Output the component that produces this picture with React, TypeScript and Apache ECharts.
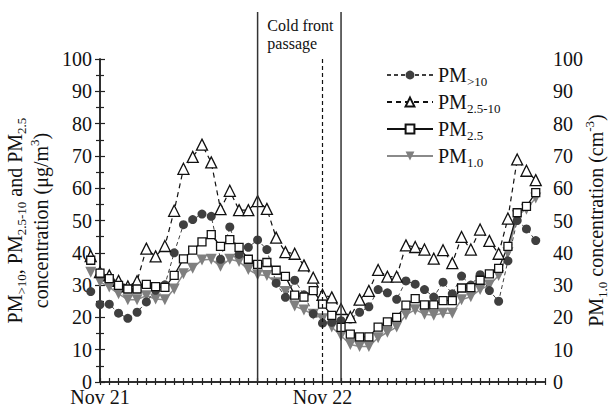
import React, { useEffect, useRef } from "react";
import * as echarts from "echarts";

// Hours from 00:00 Nov 21 (first sample is 23:00 Nov 20)
const hours = [-1, 0, 1, 2, 3, 4, 5, 6, 7, 8, 9, 10, 11, 12, 13, 14, 15, 16, 17, 18, 19, 20, 21, 22, 23, 24,
  25, 26, 27, 28, 29, 30, 31, 32, 33, 34, 35, 36, 37, 38, 39, 40, 41, 42, 43, 44, 45, 46, 47];

// PM>10 (µg/m3)
const pmGt10 = [28, 24, 24.1, 21.3, 19.7, 21.6, 24.8, 28.4, 30.1, 40, 48.7, 50.3, 52, 51.3, 38, 48, 39.5, 41.7,
  44, 41, 30.6, 26.2, 31.5, 27, 21.1, 18.2, 18.5, 19, 19.5, 21.6, 23.3, 28.6, 27.6, 25.6, 31.3, 30.3, 28.6, 26.3,
  30.9, 27.3, 32.8, 30, 33.2, 28.3, 25, 37.5, 50, 47.4, 43.8];

// PM2.5-10 (µg/m3)
const pm25to10 = [39, 34, 33, 31.3, 29.6, 31.2, 41.3, 38.9, 42.1, 53, 66, 69.7, 73.5, 68, 53.5, 59.2, 53.2, 53.2,
  56, 53.6, 44.7, 40.2, 39.7, 36.1, 32.3, 27, 26.2, 22.6, 20.1, 25.5, 28.2, 34.7, 32.6, 32.6, 42.3, 41.8, 41, 38.2,
  40.8, 36.8, 44.9, 41, 47.2, 43.7, 39.7, 50.6, 68.9, 65.4, 62.5];

// PM2.5 (µg/m3)
const pm25 = [37.7, 33.7, 32, 29.9, 28.8, 28.8, 30.2, 29.5, 29.3, 33, 38.1, 40.8, 43.4, 45.6, 42, 44.1, 41.7, 38,
  36.4, 37, 34.6, 32.7, 26.9, 26.3, 28.3, 24.1, 20.6, 16.9, 14.8, 14, 14, 17, 18.6, 20, 23.8, 25.8, 23.9, 23.9,
  25.2, 25.2, 29.1, 29.2, 31.5, 33.5, 35.2, 42, 52.4, 54.4, 58.6];

// PM1.0 (cm-3)
const pm10 = [34, 31, 29.4, 27.3, 25.5, 25.5, 26.7, 25.7, 25.5, 28.8, 33.5, 35.2, 37.8, 38, 35.8, 38, 37.3, 34.8,
  33.2, 33, 30.7, 28, 23.5, 22.3, 21, 19.6, 17, 14.3, 11.6, 11, 11, 13.7, 15.4, 17, 20.8, 22.4, 21, 20.7, 21.3,
  21.3, 25.5, 26.4, 28.6, 30, 33, 40, 51.6, 53.5, 57];

const xTickLabels: Record<number, string> = { 0: "Nov 21", 24: "Nov 22" };
const frontStart = 17;
const frontEnd = 26;
const frontDashed = 24;

const seriesNames = ["PM>10", "PM2.5-10", "PM2.5", "PM1.0"];
const legendRich: Record<string, string> = {
  "PM>10": "{m|PM}{s|>10}",
  "PM2.5-10": "{m|PM}{s|2.5-10}",
  "PM2.5": "{m|PM}{s|2.5}",
  "PM1.0": "{m|PM}{s|1.0}",
};

const FONT = "'Liberation Serif', 'Times New Roman', Times, serif";

const rich = {
  m: { fontSize: 20, fontFamily: FONT, color: "#111", lineHeight: 26 },
  s: { fontSize: 13, fontFamily: FONT, color: "#111", lineHeight: 14, verticalAlign: "bottom" },
  sup: { fontSize: 13, fontFamily: FONT, color: "#111", lineHeight: 14, verticalAlign: "top" },
};

const zip = (vals: number[]) => hours.map((h, i) => [h, vals[i]]);

export default function App() {
  const ref = useRef<HTMLDivElement>(null);
  useEffect(() => {
    if (!ref.current) return;
    const chart = echarts.init(ref.current, null, { renderer: "svg" });
    const axisLine = { show: true, lineStyle: { color: "#222", width: 1.5 } };
    const xBase = { type: "value", min: 0, max: 48, interval: 1, splitLine: { show: false } };
    const yBase = {
      type: "value",
      min: 0,
      max: 100,
      interval: 10,
      splitLine: { show: false },
      axisLine,
      axisTick: { show: true, inside: true, length: 5, lineStyle: { color: "#222", width: 1.2 } },
      minorTick: { show: true, splitNumber: 2, length: 4, lineStyle: { color: "#222", width: 1.2 } },
      axisLabel: { fontFamily: FONT, fontSize: 20, color: "#111", margin: 8, lineHeight: 14 },
      nameLocation: "middle",
      nameRotate: 90,
      nameMoveOverlap: false,
      nameTextStyle: { rich },
    };
    const option: any = {
      animation: false,
      backgroundColor: "#fff",
      grid: {
        left: 100,
        right: 65,
        top: 59,
        bottom: 26,
        containLabel: false,
        outerBoundsMode: "none",
      },
      xAxis: [
        {
          ...xBase,
          position: "bottom",
          axisLine,
          axisTick: { show: true, inside: true, length: 4, lineStyle: { color: "#222", width: 1.2 } },
          axisLabel: {
            fontFamily: FONT,
            fontSize: 20,
            color: "#111",
            margin: 8,
            lineHeight: 14,
            formatter: (v: number) => xTickLabels[v] ?? "",
          },
        },
        {
          ...xBase,
          position: "top",
          axisLine,
          axisTick: { show: true, inside: true, length: 3, lineStyle: { color: "#222", width: 1.2 } },
          axisLabel: { show: false },
        },
      ],
      yAxis: [
        {
          ...yBase,
          position: "left",
          name:
            "{m|PM}{s|>10}{m|, PM}{s|2.5-10}{m| and PM}{s|2.5}\n{m|concentration (μg/m}{sup|3}{m|)}",
          nameGap: 46,
        },
        {
          ...yBase,
          position: "right",
          name: "{m|PM}{s|1.0}{m| concentration (cm}{sup|-3}{m|)}",
          nameGap: 38,
        },
      ],
      legend: {
        orient: "vertical",
        left: 381,
        top: 60,
        itemWidth: 46,
        itemHeight: 11,
        itemGap: 4,
        data: seriesNames,
        formatter: (name: string) => legendRich[name] ?? name,
        textStyle: { rich, fontFamily: FONT, fontSize: 20, color: "#111" },
        selectedMode: false,
      },
      series: [
        {
          name: "PM1.0",
          type: "line",
          yAxisIndex: 1,
          data: zip(pm10),
          clip: false,
          symbol: "triangle",
          symbolRotate: 180,
          symbolSize: 11,
          itemStyle: { color: "#7f7f7f" },
          lineStyle: { color: "#8a8a8a", width: 1.5 },
        },
        {
          name: "PM>10",
          type: "line",
          data: zip(pmGt10),
          clip: false,
          symbol: "circle",
          symbolSize: 9,
          itemStyle: { color: "#3f3f3f" },
          lineStyle: { color: "#3f3f3f", width: 1, type: [4, 3] },
        },
        {
          name: "PM2.5-10",
          type: "line",
          data: zip(pm25to10),
          clip: false,
          symbol: "triangle",
          symbolSize: 11,
          itemStyle: { color: "#fff", borderColor: "#111", borderWidth: 1.3 },
          lineStyle: { color: "#111", width: 1.2, type: [5, 4] },
        },
        {
          name: "PM2.5",
          type: "line",
          data: zip(pm25),
          clip: false,
          symbol: "rect",
          symbolSize: 8,
          itemStyle: { color: "#fff", borderColor: "#111", borderWidth: 1.3 },
          lineStyle: { color: "#111", width: 1.3 },
        },
      ],
    };
    chart.setOption(option);

    const pStartBottom = chart.convertToPixel({ gridIndex: 0 }, [frontStart, 0]) as number[];
    const pEndBottom = chart.convertToPixel({ gridIndex: 0 }, [frontEnd, 0]) as number[];
    const pDashTop = chart.convertToPixel({ gridIndex: 0 }, [frontDashed, 100]) as number[];
    const pDashBottom = chart.convertToPixel({ gridIndex: 0 }, [frontDashed, 0]) as number[];
    const mid = (pStartBottom[0] + pEndBottom[0]) / 2;
    chart.setOption({
      graphic: [
        {
          type: "line",
          z: 10,
          shape: { x1: pStartBottom[0], y1: 12, x2: pStartBottom[0], y2: pStartBottom[1] },
          style: { stroke: "#333", lineWidth: 1.5 },
        },
        {
          type: "line",
          z: 10,
          shape: { x1: pEndBottom[0], y1: 12, x2: pEndBottom[0], y2: pEndBottom[1] },
          style: { stroke: "#333", lineWidth: 1.5 },
        },
        {
          type: "line",
          z: 10,
          shape: { x1: pDashTop[0], y1: pDashTop[1], x2: pDashBottom[0], y2: pDashBottom[1] },
          style: { stroke: "#111", lineWidth: 1.2, lineDash: [4, 3] },
        },
        {
          type: "text",
          z: 10,
          x: mid - 32,
          y: 16,
          style: {
            text: "Cold front\npassage",
            font: `16px ${FONT}`,
            fill: "#111",
            lineHeight: 18,
            textAlign: "left",
            textVerticalAlign: "top",
          },
        },
      ],
    });

    return () => chart.dispose();
  }, []);
  return <div ref={ref} style={{ width: 610, height: 408, position: "absolute", left: 0, top: 0 }} />;
}
